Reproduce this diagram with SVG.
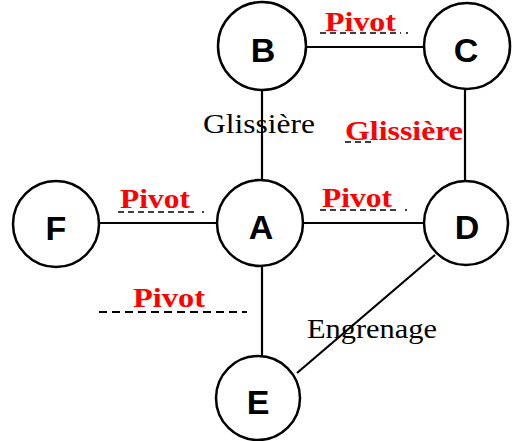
<svg xmlns="http://www.w3.org/2000/svg" width="515" height="441" viewBox="0 0 515 441">
<style>
.node circle{fill:#fff;stroke:#000;stroke-width:2.5}
.node text{font-family:"Liberation Sans",Arial,sans-serif;font-weight:bold;font-size:34px;text-anchor:middle;fill:#000}
.edge{stroke:#000;stroke-width:2.2;fill:none}
.lbl{font-family:"Liberation Serif","Times New Roman",serif;font-size:28px;fill:#000}
.red{font-family:"Liberation Serif","Times New Roman",serif;font-size:28px;font-weight:bold;fill:#ff0000}
.dash{stroke:#000;stroke-width:1.6;stroke-dasharray:6 4;fill:none}
</style>
<rect width="515" height="441" fill="#fff"/>
<g id="connectors">
<line class="edge" x1="262" y1="47" x2="467" y2="47"/>
<line class="edge" x1="262" y1="46" x2="262" y2="223"/>
<line class="edge" x1="465" y1="46" x2="465" y2="223"/>
<line class="edge" x1="56" y1="223" x2="466" y2="223"/>
<line class="edge" x1="262" y1="223" x2="262" y2="398"/>
<line class="edge" x1="435" y1="255" x2="297" y2="373"/>
</g>
<g id="B" class="node"><circle cx="262" cy="46" r="44"/><text x="263" y="62">B</text></g>
<g id="C" class="node"><circle cx="467" cy="46" r="43"/><text x="466" y="62">C</text></g>
<g id="F" class="node"><circle cx="56" cy="224" r="43"/><text x="56" y="240">F</text></g>
<g id="A" class="node"><circle cx="260" cy="223" r="43"/><text x="261" y="239">A</text></g>
<g id="D" class="node"><circle cx="466" cy="223" r="42"/><text x="467" y="239">D</text></g>
<g id="E" class="node"><circle cx="258" cy="398" r="42"/><text x="258" y="414">E</text></g>
<g id="labels">
<line class="dash" x1="320" y1="33" x2="401" y2="33"/><circle cx="407" cy="33" r="1" fill="#000"/>
<text class="red" x="325" y="31" textLength="71" lengthAdjust="spacingAndGlyphs">Pivot</text>
<text class="lbl" x="203" y="133" textLength="112" lengthAdjust="spacingAndGlyphs">Glissière</text>
<line class="dash" x1="345" y1="142" x2="375" y2="142"/>
<text class="red" x="345" y="140" textLength="118" lengthAdjust="spacingAndGlyphs">Glissière</text>
<line class="dash" x1="118" y1="212" x2="198" y2="212"/><circle cx="203" cy="212" r="1" fill="#000"/>
<text class="red" x="120" y="208" textLength="70" lengthAdjust="spacingAndGlyphs">Pivot</text>
<line class="dash" x1="320" y1="210" x2="399" y2="210"/><circle cx="406" cy="210" r="1" fill="#000"/>
<text class="red" x="322" y="207" textLength="70" lengthAdjust="spacingAndGlyphs">Pivot</text>
<line class="dash" x1="99" y1="312" x2="247" y2="312" style="stroke-width:2;stroke-dasharray:8 5"/>
<text class="red" x="133" y="307" textLength="72" lengthAdjust="spacingAndGlyphs">Pivot</text>
<text class="lbl" x="307" y="338" textLength="130" lengthAdjust="spacingAndGlyphs">Engrenage</text>
</g>
</svg>
